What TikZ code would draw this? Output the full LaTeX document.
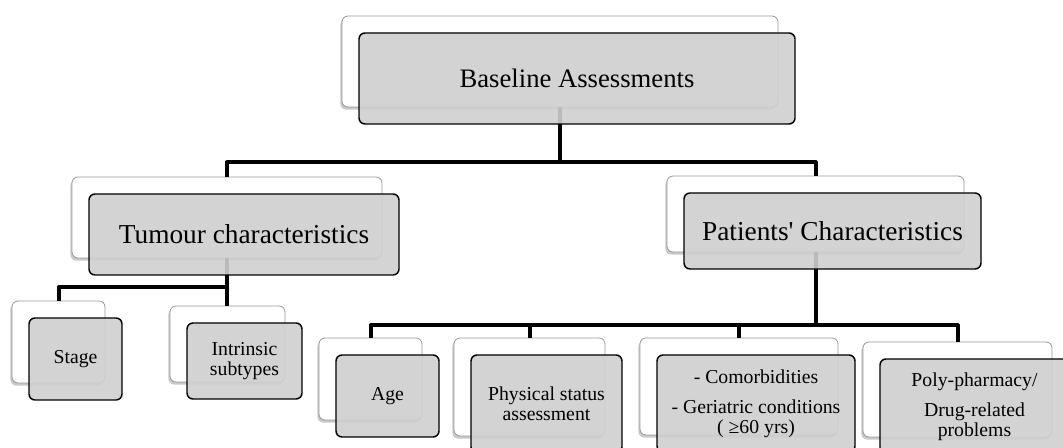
\documentclass[tikz,border=0pt]{standalone}
\usepackage{fontspec}
\setmainfont{Liberation Serif}
\usepackage{tikz}
\usetikzlibrary{shadows}

\begin{document}
\begin{tikzpicture}[line cap=round,line join=round,x=0.75pt,y=-0.75pt,
  backbox/.style={draw=black!40,line width=0.6pt,fill=white,rounded corners=4.5pt,inner sep=0pt,
    drop shadow={shadow xshift=-1.2pt,shadow yshift=-2pt,opacity=0.3,fill=black!70}},
  frontbox/.style={draw=black,line width=1.1pt,fill=black!19,fill opacity=0.9,text opacity=1,
    rounded corners=4.5pt,inner sep=0pt,align=center},
  conn/.style={line width=3pt,line cap=butt},
  big/.style={font=\fontsize{20}{24}\selectfont},
  mid/.style={font=\fontsize{20.5}{24}\selectfont},
  small/.style={font=\fontsize{14.8}{15}\selectfont}]
\useasboundingbox (0,0) rectangle (1063,448);
\clip (0,0) rectangle (1063,448);
% back boxes
\node[backbox,minimum width=327pt,minimum height=68.25pt] (rootb) at (560,61.5) {};
\node[backbox,minimum width=232.5pt,minimum height=60.75pt] (tumourb) at (227,217.5) {};
\node[backbox,minimum width=222.75pt,minimum height=57pt] (patientsb) at (815.5,214) {};
\node[backbox,minimum width=69.75pt,minimum height=61.5pt] (stageb) at (58.5,342) {};
\node[backbox,minimum width=86.25pt,minimum height=57pt] (intrinsicb) at (227.5,344) {};
\node[backbox,minimum width=77.25pt,minimum height=61.5pt] (ageb) at (370.5,379) {};
\node[backbox,minimum width=113.25pt,minimum height=73.5pt] (physicalb) at (529.5,387) {};
\node[backbox,minimum width=148.5pt,minimum height=72.75pt] (comorbb) at (739,386.5) {};
\node[backbox,minimum width=141.75pt,minimum height=71.25pt] (polyb) at (957.5,389.5) {};
% connectors
\draw[conn] (rootb.south) -- ++(0,55) coordinate (j1);
\draw[conn] (tumourb.north) |- (j1) -| (patientsb.north);
\draw[conn] (tumourb.south) -- ++(0,29) coordinate (j2) -| (stageb.north);
\draw[conn] (j2) -- (j2 |- intrinsicb.north);
\draw[conn] (patientsb.south) -- ++(0,73) coordinate (j3);
\draw[conn] (ageb.north) |- (j3) -| (polyb.north);
\draw[conn] (physicalb.north) -- (physicalb.north |- j3);
\draw[conn] (comorbb.north) -- (comorbb.north |- j3);
% front boxes
\node[frontbox,big,minimum width=327pt,minimum height=68.25pt] (root) at ([shift={(17,17)}]rootb.center) {Baseline Assessments};
\node[frontbox,mid,minimum width=232.5pt,minimum height=60.75pt] (tumour) at ([shift={(17,17)}]tumourb.center) {Tumour characteristics};
\node[frontbox,mid,minimum width=222.75pt,minimum height=57pt] (patients) at ([shift={(17,17)}]patientsb.center) {Patients\textquotesingle\ Characteristics};
\node[frontbox,small,minimum width=69.75pt,minimum height=61.5pt] (stage) at ([shift={(17,17)}]stageb.center) {Stage};
\node[frontbox,small,minimum width=86.25pt,minimum height=57pt] (intrinsic) at ([shift={(17,17)}]intrinsicb.center) {Intrinsic\\subtypes};
\node[frontbox,small,minimum width=77.25pt,minimum height=61.5pt] (age) at ([shift={(17,17)}]ageb.center) {Age};
\node[frontbox,small,minimum width=113.25pt,minimum height=73.5pt] (physical) at ([shift={(17,17)}]physicalb.center) {Physical status\\assessment};
\node[frontbox,small,minimum width=148.5pt,minimum height=72.75pt] (comorb) at ([shift={(17,17)}]comorbb.center) {- Comorbidities\\[7.5pt]- Geriatric conditions\\( ≥60 yrs)};
\node[frontbox,small,minimum width=141.75pt,minimum height=71.25pt] (poly) at ([shift={(17,17)}]polyb.center) {Poly-pharmacy/\\[7.5pt]Drug-related\\problems};
\end{tikzpicture}
\end{document}
